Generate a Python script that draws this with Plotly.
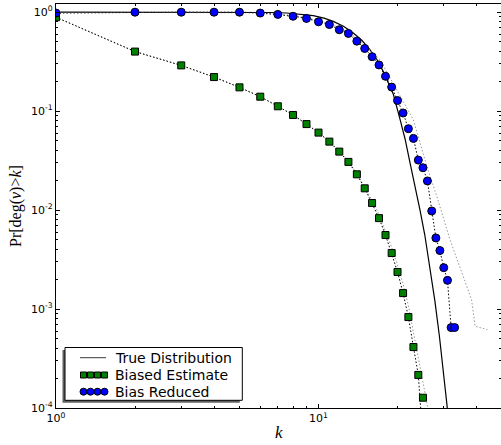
import plotly.graph_objects as go

# ---------------- data ----------------
k_true = [1, 3, 5, 6.5, 7.57, 8.5, 9.55, 10.5, 11.38, 12.45, 13.57, 14.62, 15.7, 16.67,
          17.66, 18.49, 19.28, 20.44, 21.38, 22.32, 23.33, 24.36, 25.41, 26.6, 27.73,
          28.86, 30.96, 32]
p_true = [1.0, 1.0, 0.998, 0.993, 0.982, 0.96, 0.923, 0.87, 0.807, 0.72, 0.617, 0.52,
          0.418, 0.335, 0.251, 0.19, 0.148, 0.083, 0.052, 0.030, 0.0174, 0.010, 0.0056,
          0.0026, 0.00123, 0.00054, 0.0001, 0.000045]

k_biased = list(range(1, 26))
p_biased = [0.89, 0.40, 0.29, 0.221, 0.174, 0.14, 0.112, 0.0915, 0.074, 0.0607, 0.0492,
            0.039, 0.0307, 0.023, 0.0166, 0.0118, 0.0083, 0.0056, 0.00368, 0.00237,
            0.00145, 0.00083, 0.000413, 0.000216, 0.000127]

k_biased_mean = list(range(1, 26))
p_biased_mean = [0.89, 0.40, 0.29, 0.221, 0.174, 0.14, 0.112, 0.0915, 0.074, 0.0607, 0.0492,
                 0.039, 0.0307, 0.023, 0.0166, 0.0118, 0.0083, 0.0056, 0.00368, 0.00237,
                 0.00145, 0.00083, 0.000413, 0.000216, 0.000047]

k_biased_upper = list(range(1, 28))
p_biased_upper = [0.89, 0.40, 0.29, 0.221, 0.174, 0.14, 0.112, 0.0915, 0.074, 0.0607, 0.0492,
                  0.039, 0.031, 0.0235, 0.0172, 0.0125, 0.0091, 0.0062, 0.0042, 0.0028,
                  0.0018, 0.00108, 0.00058, 0.00031, 0.000175, 0.000105, 0.00004]

k_reduced = list(range(1, 34))
p_reduced = [0.98, 1.0, 1.0, 1.0, 1.0, 0.98, 0.95, 0.91, 0.865, 0.80, 0.75, 0.665, 0.61,
             0.51, 0.43, 0.355, 0.293, 0.225, 0.175, 0.128, 0.0958, 0.0665, 0.053, 0.032,
             0.0268, 0.0197, 0.0098, 0.00523, 0.0039, 0.00262, 0.00195, 0.00065, 0.00065]

k_reduced_upper = [1, 4, 6, 8, 10, 12, 14, 17.15, 19.9, 22.97, 26.1, 28.5, 31.7, 34.9,
                   38.3, 39.5, 44]
p_reduced_upper = [1.0, 1.0, 0.985, 0.93, 0.83, 0.70, 0.55, 0.331, 0.165, 0.082, 0.0256,
                   0.0127, 0.00502, 0.0025, 0.00124, 0.00067, 0.00062]

x_tickvals = [1, 10]
x_ticktext = ["10<sup>0</sup>", "10<sup>1</sup>"]
y_tickvals = [1e-4, 1e-3, 1e-2, 1e-1, 1]
y_ticktext = ["10<sup>-4</sup>", "10<sup>-3</sup>", "10<sup>-2</sup>", "10<sup>-1</sup>", "10<sup>0</sup>"]
x_minor = [2, 3, 4, 5, 6, 7, 8, 9, 20, 30, 40]
y_minor = [m * 10 ** e for e in range(-4, 0) for m in range(2, 10)]

legend_labels = ["True Distribution", "Biased Estimate", "Bias Reduced"]

# ---------------- layout geometry ----------------
W, H = 501, 445
ML, MR, MT, MB = 56, 0, 4, 37
PW, PH = W - ML - MR, H - MT - MB
GREEN = "#008000"
BLUE = "#0000ff"
GRAY = "#9a9a9a"
DOT = "1.5px,2px"


def px(x):
    return (x - ML) / PW


def py(y):
    return (H - MB - y) / PH


fig = go.Figure()

fig.add_trace(go.Scatter(x=k_true, y=p_true, mode="lines",
                         line=dict(color="black", width=1.2), showlegend=False))
fig.add_trace(go.Scatter(x=k_reduced_upper, y=p_reduced_upper, mode="lines",
                         line=dict(color=GRAY, width=1.0, dash=DOT), showlegend=False))
fig.add_trace(go.Scatter(x=k_biased_upper, y=p_biased_upper, mode="lines",
                         line=dict(color=GRAY, width=1.0, dash=DOT), showlegend=False))
fig.add_trace(go.Scatter(x=k_biased_mean, y=p_biased_mean, mode="lines",
                         line=dict(color="black", width=1.0, dash=DOT), showlegend=False))
fig.add_trace(go.Scatter(x=k_reduced, y=p_reduced, mode="lines",
                         line=dict(color="black", width=1.0, dash=DOT), showlegend=False))
fig.add_trace(go.Scatter(x=k_biased, y=p_biased, mode="markers",
                         marker=dict(symbol="square", size=7, color=GREEN,
                                     line=dict(color="black", width=1)), showlegend=False))
fig.add_trace(go.Scatter(x=k_reduced, y=p_reduced, mode="markers",
                         marker=dict(symbol="circle", size=8, color=BLUE,
                                     line=dict(color="black", width=1)), showlegend=False))

tickfont = dict(family="DejaVu Sans", size=11, color="black")
common = dict(showline=True, linecolor="black", linewidth=1.3, mirror="allticks",
              ticks="inside", ticklen=4, tickwidth=1, tickcolor="black",
              showgrid=False, zeroline=False, tickfont=tickfont)

fig.update_xaxes(type="log", range=[0, PW / 262.5], tickvals=x_tickvals, ticktext=x_ticktext,
                 minor=dict(ticks="inside", ticklen=2, tickwidth=1, tickcolor="black",
                            tickvals=x_minor, showgrid=False), **common)
fig.update_yaxes(type="log", range=[-4, -4 + PH / 98.95], tickvals=y_tickvals, ticktext=y_ticktext,
                 minor=dict(ticks="inside", ticklen=2, tickwidth=1, tickcolor="black",
                            tickvals=y_minor, showgrid=False), **common)

# ---------------- custom legend (box with shadow) ----------------
shapes = []
bx0, by0, bx1, by1 = 65, 347.5, 242.3, 400.3
shapes.append(dict(type="rect", xref="paper", yref="paper",
                   x0=px(bx0 - 2.5), x1=px(bx1 - 2.5), y0=py(by1 + 2.5), y1=py(by0 + 2.5),
                   fillcolor="#606060", line=dict(width=0)))
shapes.append(dict(type="rect", xref="paper", yref="paper",
                   x0=px(bx0), x1=px(bx1), y0=py(by1), y1=py(by0),
                   fillcolor="white", line=dict(color="black", width=1)))
rows = [357.7, 375.0, 391.7]
shapes.append(dict(type="line", xref="paper", yref="paper",
                   x0=px(80), x1=px(106), y0=py(rows[0]), y1=py(rows[0]),
                   line=dict(color="#3a3a3a", width=1)))
for cx in [83.5, 90.5, 97.5, 104.5]:
    shapes.append(dict(type="rect", xref="paper", yref="paper",
                       x0=px(cx - 3), x1=px(cx + 3), y0=py(rows[1] + 3), y1=py(rows[1] - 3),
                       fillcolor=GREEN, line=dict(color="black", width=1)))
    shapes.append(dict(type="circle", xref="paper", yref="paper",
                       x0=px(cx - 3.5), x1=px(cx + 3.5), y0=py(rows[2] + 3.5), y1=py(rows[2] - 3.5),
                       fillcolor=BLUE, line=dict(color="black", width=1)))

annotations = []
for lab, ry in zip(legend_labels, rows):
    annotations.append(dict(text=lab, xref="paper", yref="paper", x=px(113), y=py(ry),
                            xanchor="left", yanchor="middle", showarrow=False,
                            font=dict(family="DejaVu Sans", size=14, color="black")))

annotations.append(dict(text="Pr[deg(<i>v</i>)&gt;<i>k</i>]", xref="paper", yref="paper",
                        x=px(16), y=py(206), textangle=-90, showarrow=False,
                        xanchor="center", yanchor="middle",
                        font=dict(family="Liberation Serif", size=16, color="black")))
annotations.append(dict(text="<i>k</i>", xref="paper", yref="paper",
                        x=px(279), y=py(432), showarrow=False,
                        xanchor="center", yanchor="middle",
                        font=dict(family="Liberation Serif", size=17, color="black")))

fig.update_layout(width=W, height=H, margin=dict(l=ML, r=MR, t=MT, b=MB, pad=0),
                  paper_bgcolor="white", plot_bgcolor="white", showlegend=False,
                  shapes=shapes, annotations=annotations)

fig.write_html("out.html", config={"displayModeBar": False})
